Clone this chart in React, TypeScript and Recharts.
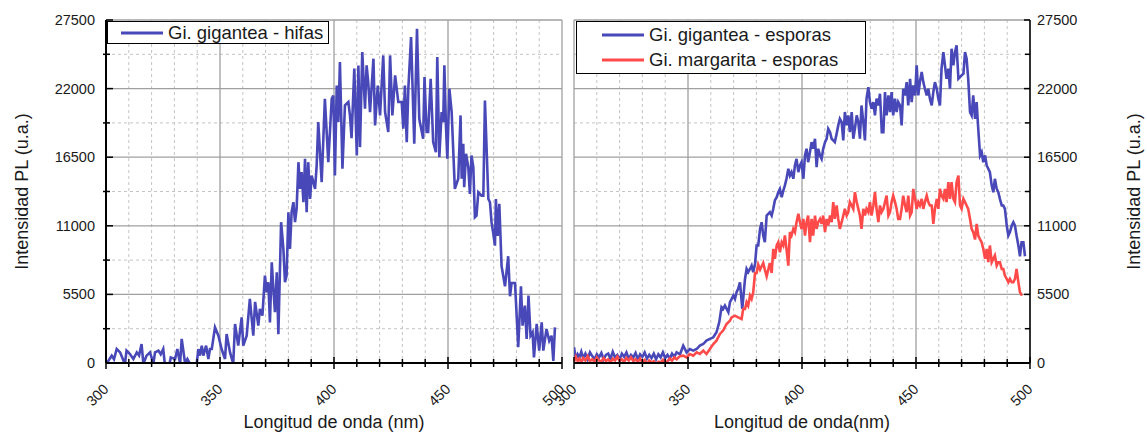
import React from 'react';
import { LineChart, Line, XAxis, YAxis, CartesianGrid, Legend, Label } from 'recharts';

// axis ticks (nm / u.a.)
const xTicks = [300, 310, 320, 330, 340, 350, 360, 370, 380, 390, 400, 410, 420, 430, 440, 450, 460, 470, 480, 490, 500];
const xMajor = [300, 350, 400, 450, 500];
const xMinor = [310, 320, 330, 340, 360, 370, 380, 390, 410, 420, 430, 440, 460, 470, 480, 490];
const yTicks = [0, 2750, 5500, 8250, 11000, 13750, 16500, 19250, 22000, 24750, 27500];
const yMajor = [0, 5500, 11000, 16500, 22000, 27500];
const yMinor = [2750, 8250, 13750, 19250, 24750];

// [longitud de onda (nm), intensidad PL]
const hifas: [number, number][] = [
  [300.6, 50], [302.5, 590], [303.5, 300], [304.7, 1120], [306.2, 850], [307.2, 400], [308.3, -100],
  [309, 1000], [310.5, 720], [312, 320], [313.5, 850], [314.5, 600], [315.6, 1520], [316.4, -50],
  [317.8, 590], [319.3, 850], [320.8, -50], [321.5, 850], [323, 990], [324, 700], [325.1, 1120],
  [326, -400], [327.5, -400], [328.4, 450], [330.3, 320], [331.3, 1120], [332.5, -50], [333.2, 1930],
  [334.7, -50], [335.7, 320], [336.8, -50], [338.2, -300], [339.8, -50], [340.5, 1120], [341.2, 590],
  [342, 1390], [342.7, 590], [343.9, 1390], [344.9, 320], [345.6, 1120], [346.4, 1120], [347.8, 2860],
  [349.3, 2190], [350.7, 1120], [352.2, 320], [352.9, 2320], [354.4, 850], [355.8, -50], [356.6, 3130],
  [358, 1390], [359.5, 3660], [360.2, 1390], [361.7, 2190], [363.1, 5140], [364.6, 2190],
  [365.4, 4900], [366.8, 3000], [367.5, 4330], [368.6, 3800], [369.7, 7010], [370.5, 5670],
  [371.2, 6470], [371.9, 3260], [372.7, 8080], [373.4, 5940], [374.1, 4070], [374.9, 7280],
  [375.6, 2300], [376.8, 11290], [377.8, 9150], [378.5, 6470], [379.2, 7010], [380, 12090],
  [380.7, 9150], [381.4, 12090], [382.2, 12890], [382.9, 11290], [383.6, 12360], [384.4, 16100],
  [385.1, 13960], [385.8, 15300], [386.6, 12890], [387.3, 16370], [388, 12090], [388.7, 16100],
  [389.5, 13160], [390.2, 15030], [391.7, 13960], [392.4, 15840], [393.1, 19310], [394.6, 14500],
  [396, 21180], [397.5, 16100], [399, 21180], [399.7, 21450], [400.4, 15030], [401.2, 22250],
  [401.9, 19310], [402.6, 24130], [403.7, 15570], [404.8, 20650], [406.3, 20920], [407, 19850],
  [407.7, 18020], [408.9, 23600], [410, 16640], [410.7, 23860], [411.4, 17310], [412.4, 24930],
  [413.6, 20380], [414.3, 23860], [415, 22520], [415.8, 20120], [417.3, 24400], [418, 19050],
  [419.2, 22250], [420.2, 19850], [421.6, 24660], [422.4, 20120], [423.8, 18520], [424.6, 24660],
  [425.6, 19850], [426.8, 23060], [428.2, 20920], [429.7, 20920], [430.4, 18780], [431.1, 22250],
  [431.9, 17710], [432.6, 21990], [433.8, 26130], [435.2, 17580], [436.4, 26800], [437.4, 19580],
  [439.1, 17980], [439.7, 22930], [440.6, 18520], [441.3, 18520], [442.4, 22790], [443.5, 17710],
  [444.7, 16900], [445.3, 24530], [446.2, 16500], [447.2, 20120], [447.9, 19310], [448.4, 23870],
  [449.1, 19050], [449.7, 16370], [450.6, 21990], [451.6, 20120], [453, 13960], [454.5, 14770],
  [455.5, 19850], [456, 14770], [456.7, 17580], [457.1, 14100], [457.9, 16770], [458.9, 15710],
  [459.6, 13560], [460.3, 16640], [461.1, 15710], [461.8, 11690], [462.5, 11820], [463.3, 13690],
  [464.7, 13420], [465.5, 13420], [466.2, 21050], [467.7, 13150], [468.4, 12890], [469.1, 11290],
  [469.8, 10460], [470.6, 9410], [471, 13150], [471.8, 10190], [472.5, 12760], [473.5, 7760],
  [475, 6150], [476.4, 8560], [477.2, 5350], [477.9, 6420], [479.4, 6420], [480.8, 1260],
  [482, 6150], [482.7, 3000], [483.7, 4600], [484.5, 1930], [485.3, 5400], [486.2, 2190],
  [487.1, 2460], [487.7, 450], [488.9, 3130], [490, 1000], [491.1, 3260], [491.8, 990],
  [493.2, 2720], [494.4, 1790], [495.4, 2190], [496.2, 170], [496.9, 2860],
];

const esporasGigantea: [number, number][] = [
  [300, 1260], [300.8, 300], [301.6, 700], [302.4, 450], [303.2, 900], [304, 400], [305, 750],
  [306, 300], [307, 850], [308, 550], [309, 300], [310, 700], [311, 450], [312, 800], [313, 300],
  [314, 650], [315, 750], [316, 350], [317, 900], [318, 450], [319, 650], [320, 300], [321, 750],
  [322, 500], [323, 850], [324, 350], [325, 650], [326, 450], [327, 800], [328, 300], [329, 700],
  [330, 500], [331, 850], [332, 350], [333, 650], [334, 400], [335, 750], [336, 300], [337, 700],
  [338, 450], [339, 850], [340, 400], [341, 650], [342, 350], [343, 750], [344, 500], [345, 850],
  [346.5, 700], [347.9, 1390], [349.4, 850], [350.8, 1120], [352.3, 990], [353.8, 1120],
  [355.2, 1390], [356.7, 1520], [358.1, 1790], [359.6, 1930], [361.1, 2060], [362.5, 2460],
  [363.7, 3260], [364.7, 4470], [365.4, 4330], [366.2, 4600], [367.7, 4070], [368.4, 4870],
  [369.9, 5400], [370.6, 5140], [371.3, 5670], [372, 5940], [372.8, 6470], [373.8, 4330],
  [375, 6740], [375.7, 7540], [376.4, 7280], [377.2, 7540], [377.9, 7810], [378.6, 7280],
  [379.4, 7940], [380.1, 9420], [380.8, 9420], [381.6, 10750], [382.3, 11290], [383, 10220],
  [383.7, 9680], [384.5, 11820], [385.2, 11960], [385.9, 12090], [386.7, 11820], [387.4, 12360],
  [388.1, 13030], [388.9, 13290], [389.6, 13690], [390.3, 13960], [391.1, 13290], [391.8, 13830],
  [392.5, 14240], [393.2, 14770], [394, 15570], [394.7, 15030], [395.4, 15300], [396.2, 14770],
  [396.9, 15840], [397.6, 16370], [398.4, 15300], [399.1, 15840], [399.8, 16100], [400.6, 14770],
  [401.3, 16640], [402, 17180], [402.7, 16100], [403.5, 16910], [404.2, 17710], [404.9, 17180],
  [405.7, 17980], [406.4, 15700], [407.1, 17180], [407.9, 16640], [408.6, 16370], [409.3, 17180],
  [410.1, 17710], [410.8, 17980], [411.5, 18780], [412.3, 18510], [413, 17980], [413.7, 17850],
  [414.4, 17710], [415.2, 18390], [415.9, 19050], [416.6, 19580], [417.4, 19310], [418.1, 17850],
  [418.8, 20120], [419.6, 19050], [420.3, 19850], [421, 18510], [421.8, 20120], [422.5, 17980],
  [423.2, 18780], [424, 19850], [424.7, 19310], [425.4, 17980], [426.1, 20650], [426.9, 19310],
  [427.6, 17850], [428.3, 21190], [429.1, 22120], [429.8, 20920], [430.5, 20380], [431.3, 20920],
  [432, 19850], [432.7, 21190], [433.5, 20650], [434.2, 21590], [435, 18510], [435.7, 18510],
  [436.4, 21720], [437.1, 19850], [437.9, 21450], [438.6, 20120], [439.3, 21720], [440, 19850],
  [440.8, 21190], [441.5, 20120], [442.2, 20920], [443, 20650], [443.7, 19050], [444.4, 21990],
  [445.2, 21450], [445.9, 22520], [446.6, 20650], [447.4, 22790], [448.1, 20920], [448.8, 22250],
  [449.6, 21450], [450.3, 23860], [451, 21450], [451.7, 22520], [452.5, 23330], [453.2, 22520],
  [453.9, 21990], [454.7, 21450], [455.4, 21990], [456.1, 21190], [456.9, 20650], [457.6, 21720],
  [458.3, 22520], [459.1, 21990], [459.8, 21190], [460.5, 20650], [461.2, 23600], [462, 24930],
  [462.7, 23860], [463.4, 22790], [464.2, 23600], [464.9, 21990], [465.6, 25200], [466.4, 23860],
  [467.1, 24930], [467.8, 25470], [468.6, 22790], [469.3, 22920], [470, 23060], [470.8, 23200],
  [471.5, 24930], [472.2, 24400], [472.9, 22790], [473.7, 20120], [474.4, 19850], [475.1, 21450],
  [475.9, 19580], [476.6, 20920], [477.3, 18780], [478.1, 16640], [478.8, 16910], [479.5, 16100],
  [480.3, 16640], [481, 15840], [481.7, 15570], [482.4, 15300], [483.2, 14240], [483.9, 13690],
  [484.6, 14770], [485.4, 13960], [486.1, 13690], [486.8, 13160], [487.6, 12630], [488.3, 12630],
  [489, 12360], [489.8, 11020], [490.5, 10220], [491.2, 10490], [492, 11020], [492.7, 11290],
  [493.4, 11020], [494.1, 10220], [494.9, 9420], [495.6, 8560], [496.3, 9680], [497.1, 9680],
  [497.8, 8560],
];

const esporasMargarita: [number, number][] = [
  [300, 100], [300.8, 500], [301.6, 150], [302.4, 350], [303.2, 50], [304, 400], [305, 200],
  [306, 550], [307, 150], [308, 300], [309, 100], [310, 450], [311, 200], [312, 100], [313, 400],
  [314, 150], [315, 300], [316, 50], [317, 350], [318, 200], [319, 500], [320, 150], [321, 300],
  [322, 100], [323, 400], [324, 200], [325, 450], [326, 150], [327, 300], [328, 100], [329, 350],
  [330, 50], [331, 250], [332, -100], [333, 200], [334, 50], [335, 150], [336, -100], [337, 100],
  [338, 50], [339, 250], [340, -50], [341, 150], [342, 350], [343, 200], [344, 450], [345, 300],
  [346.5, 550], [347.9, 590], [349.4, 450], [350.8, 720], [352.3, 590], [353.8, 850], [355.2, 720],
  [356.7, 990], [358.1, 720], [359.6, 1120], [361.1, 1520], [362.5, 1790], [364, 2330],
  [365.4, 2600], [366.9, 3130], [368.4, 3390], [369.1, 3660], [370.6, 3800], [372, 3660],
  [373.5, 3530], [374.2, 4330], [375, 4330], [375.7, 4870], [376.4, 4600], [377.2, 5400],
  [377.9, 5140], [378.6, 5670], [379.4, 7220], [380.1, 7220], [380.8, 7890], [381.6, 7490],
  [382.3, 7760], [383, 8020], [383.7, 7490], [384.5, 6960], [385.2, 7490], [385.9, 8020],
  [386.7, 7220], [387.4, 9150], [388.1, 8350], [388.9, 9420], [389.6, 9680], [390.3, 8880],
  [391.1, 9680], [391.8, 9420], [392.5, 10220], [393.2, 9150], [394, 7810], [394.7, 10490],
  [395.4, 10220], [396.2, 10750], [396.9, 10490], [397.6, 11290], [398.4, 11960], [399.1, 11290],
  [399.8, 10750], [400.6, 11550], [401.3, 10220], [402, 11290], [402.7, 11820], [403.5, 9680],
  [404.2, 11550], [404.9, 10220], [405.7, 11820], [406.4, 10750], [407.1, 11290], [407.9, 11550],
  [408.6, 11150], [409.3, 11820], [410.1, 10490], [410.8, 11550], [411.5, 11020], [412.3, 11820],
  [413, 11290], [413.7, 12900], [414.4, 11550], [415.2, 12630], [415.9, 11550], [416.6, 10750],
  [417.4, 11290], [418.1, 11820], [418.8, 12360], [419.6, 11820], [420.3, 12090], [421, 12900],
  [421.8, 12630], [422.5, 12360], [423.2, 13690], [424, 12900], [424.7, 12360], [425.4, 11820],
  [426.1, 10750], [426.9, 12360], [427.6, 11820], [428.3, 12360], [429.1, 12090], [429.8, 12900],
  [430.5, 11820], [431.3, 12630], [432, 13690], [432.7, 12360], [433.5, 11290], [434.2, 12630],
  [434.9, 12090], [435.7, 12360], [436.4, 12900], [437.1, 13420], [437.9, 11820], [438.6, 12090],
  [439.3, 12900], [440, 13420], [440.8, 12900], [441.5, 12360], [442.2, 11550], [443, 11550],
  [443.7, 12360], [444.4, 13420], [445.2, 12630], [445.9, 12090], [446.6, 13420], [447.4, 11820],
  [448.1, 12090], [448.8, 13960], [449.6, 13160], [450.3, 12360], [451, 12900], [451.7, 12630],
  [452.5, 13160], [453.2, 12360], [453.9, 12900], [454.7, 13420], [455.4, 12900], [456.1, 12630],
  [456.9, 12630], [457.6, 11150], [458.3, 12360], [459.1, 13160], [459.8, 12360], [460.5, 13960],
  [461.2, 13420], [462, 13160], [462.7, 13960], [463.4, 12900], [464.2, 14500], [464.9, 13160],
  [465.6, 14500], [466.4, 13160], [467.1, 12900], [467.8, 14500], [468.6, 15030], [469.3, 12630],
  [470, 12360], [470.8, 13160], [471.5, 12900], [472.2, 12630], [472.9, 12360], [473.7, 11550],
  [474.4, 10750], [475.1, 10490], [475.9, 9900], [476.6, 11150], [477.3, 10220], [478.1, 9900],
  [478.8, 9680], [479.5, 9150], [480.3, 8350], [481, 9150], [481.7, 8080], [482.4, 9420],
  [483.2, 8080], [483.9, 8350], [484.6, 8620], [485.4, 7810], [486.1, 8080], [486.8, 8080],
  [487.6, 7540], [488.3, 7540], [489, 7010], [489.8, 6740], [490.5, 6470], [491.2, 6740],
  [492, 6470], [492.7, 6470], [493.4, 6740], [494.1, 7540], [494.9, 6470], [495.6, 5670],
  [496.5, 5400],
];

const BLUE = '#4848b8';
const RED = '#ff4a4a';
const FONT = '"Liberation Sans", Arial, sans-serif';
const INK = '#1a1a1a';
const TICK_FONT = 14.5;
const TITLE_FONT = 18;

const toPoints = (arr: [number, number][]) => arr.map(([nm, pl]) => ({ nm, pl }));

const isMajorX = (v: number) => xMajor.includes(v);
const isMajorY = (v: number) => yMajor.includes(v);

// bottom axis: tick mark crossing the line + rotated label
const BottomTick = (props: any) => {
  const { x, y, payload } = props;
  const major = isMajorX(payload.value);
  const h = major ? 6 : 4;
  const lx = x + 3.5;
  const ly = y + 27;
  return (
    <g>
      <line x1={x} x2={x} y1={y - h} y2={y + h} stroke="#000" strokeWidth={1.5} />
      {major && (
        <text
          x={lx}
          y={ly}
          transform={`rotate(-45 ${lx} ${ly})`}
          textAnchor="end"
          fontSize={TICK_FONT}
          fontFamily={FONT}
          fill={INK}
        >
          {payload.value}
        </text>
      )}
    </g>
  );
};

const TopTick = (props: any) => {
  const { x, y, payload } = props;
  const major = isMajorX(payload.value);
  return <line x1={x} x2={x} y1={y - (major ? 6 : 4)} y2={y + (major ? 3 : 2)} stroke="#000" strokeWidth={1.5} />;
};

const LeftLabelTick = (props: any) => {
  const { x, y, payload } = props;
  const major = isMajorY(payload.value);
  return (
    <g>
      <line x1={major ? x : x - 3} x2={x + (major ? 7 : 4)} y1={y} y2={y} stroke="#000" strokeWidth={1.5} />
      {major && (
        <text x={x - 11} y={y + 5} textAnchor="end" fontSize={TICK_FONT} fontFamily={FONT} fill={INK}>
          {payload.value}
        </text>
      )}
    </g>
  );
};

const RightLabelTick = (props: any) => {
  const { x, y, payload } = props;
  const major = isMajorY(payload.value);
  return (
    <g>
      <line x1={x - (major ? 6 : 5)} x2={x} y1={y} y2={y} stroke="#000" strokeWidth={1.5} />
      {major && (
        <text x={x + 7} y={y + 5} textAnchor="start" fontSize={TICK_FONT} fontFamily={FONT} fill={INK}>
          {payload.value}
        </text>
      )}
    </g>
  );
};

const InnerRightTick = (props: any) => {
  const { x, y, payload } = props;
  const major = isMajorY(payload.value);
  return <line x1={x - (major ? 7 : 4)} x2={x + 3} y1={y} y2={y} stroke="#000" strokeWidth={1.5} />;
};

const InnerLeftTick = (props: any) => {
  const { x, y, payload } = props;
  const major = isMajorY(payload.value);
  return <line x1={x - 3} x2={x + (major ? 7 : 4)} y1={y} y2={y} stroke="#000" strokeWidth={1.5} />;
};

const xTitle = (text: string) => (props: any) => {
  const vb = props.viewBox;
  return (
    <text x={vb.x + vb.width / 2} y={vb.y + 65} textAnchor="middle" fontSize={TITLE_FONT} fontFamily={FONT} fill={INK}>
      {text}
    </text>
  );
};

const yTitle = (dx: number) => (props: any) => {
  const vb = props.viewBox;
  const x = vb.x + dx;
  const y = vb.y + vb.height / 2;
  return (
    <text x={x} y={y} transform={`rotate(-90 ${x} ${y})`} textAnchor="middle" fontSize={TITLE_FONT} fontFamily={FONT} fill={INK}>
      Intensidad PL (u.a.)
    </text>
  );
};

const legendBox = (width: number, height: number, padLeft: number, rowH: number) => (props: any) => (
  <div
    style={{
      width,
      height,
      boxSizing: 'border-box',
      border: '1.5px solid #000',
      background: '#fff',
      paddingLeft: padLeft,
      fontFamily: FONT,
    }}
  >
    {(props.payload || []).map((p: any) => (
      <div key={p.value} style={{ display: 'flex', alignItems: 'center', height: rowH }}>
        <svg width={42} height={4}>
          <line x1={0} x2={42} y1={2} y2={2} stroke={p.color} strokeWidth={3} />
        </svg>
        <span style={{ marginLeft: 5, fontSize: 18.5, lineHeight: '20px', color: INK, whiteSpace: 'nowrap' }}>{p.value}</span>
      </div>
    ))}
  </div>
);

const axisLine = { stroke: '#000', strokeWidth: 2 };

export default function App() {
  return (
    <div style={{ position: 'absolute', left: 0, top: 0, width: 1147, height: 433, background: '#fff' }}>
      <div style={{ position: 'absolute', left: 0, top: 0 }}>
        <LineChart width={568} height={433} margin={{ top: 20, right: 6, bottom: 0, left: 0 }}>
          <CartesianGrid verticalValues={xMinor} horizontalValues={yMinor} stroke="#c4c4c4" strokeDasharray="3 3" strokeWidth={1} />
          <CartesianGrid verticalValues={xMajor} horizontalValues={yMajor} stroke="#a0a0a0" strokeWidth={1.3} />
          <XAxis
            dataKey="nm"
            type="number"
            domain={[300, 500]}
            ticks={xTicks}
            interval={0}
            allowDataOverflow
            height={70}
            tickSize={0}
            tickMargin={0}
            tickLine={false}
            axisLine={axisLine}
            tick={BottomTick}
          >
            <Label content={xTitle('Longitud de onda (nm)')} />
          </XAxis>
          <XAxis
            xAxisId="top"
            orientation="top"
            dataKey="nm"
            type="number"
            domain={[300, 500]}
            ticks={xTicks}
            interval={0}
            height={0}
            tickSize={0}
            tickMargin={0}
            tickLine={false}
            axisLine={axisLine}
            tick={TopTick}
          />
          <YAxis
            type="number"
            domain={[0, 27500]}
            ticks={yTicks}
            interval={0}
            allowDataOverflow
            width={106}
            tickSize={0}
            tickMargin={0}
            tickLine={false}
            axisLine={axisLine}
            tick={LeftLabelTick}
          >
            <Label content={yTitle(28)} />
          </YAxis>
          <YAxis
            yAxisId="r"
            orientation="right"
            type="number"
            domain={[0, 27500]}
            ticks={yTicks}
            interval={0}
            width={0}
            tickSize={0}
            tickMargin={0}
            tickLine={false}
            axisLine={{ stroke: '#000', strokeWidth: 1.5 }}
            tick={InnerRightTick}
          />
          <Legend
            layout="vertical"
            align="center"
            verticalAlign="middle"
            wrapperStyle={{ left: 107, top: 21, width: 222, height: 23 }}
            content={legendBox(222, 23, 13, 21)}
          />
          <Line
            data={toPoints(hifas)}
            dataKey="pl"
            name="Gi. gigantea - hifas"
            stroke={BLUE}
            strokeWidth={2.6}
            dot={false}
            isAnimationActive={false}
          />
        </LineChart>
      </div>
      <div style={{ position: 'absolute', left: 548, top: 0 }}>
        <LineChart width={599} height={433} margin={{ top: 20, right: 0, bottom: 0, left: 26 }}>
          <CartesianGrid verticalValues={xMinor} horizontalValues={yMinor} stroke="#c4c4c4" strokeDasharray="3 3" strokeWidth={1} />
          <CartesianGrid verticalValues={xMajor} horizontalValues={yMajor} stroke="#a0a0a0" strokeWidth={1.3} />
          <XAxis
            dataKey="nm"
            type="number"
            domain={[300, 500]}
            ticks={xTicks}
            interval={0}
            allowDataOverflow
            height={70}
            tickSize={0}
            tickMargin={0}
            tickLine={false}
            axisLine={axisLine}
            tick={BottomTick}
          >
            <Label content={xTitle('Longitud de onda(nm)')} />
          </XAxis>
          <XAxis
            xAxisId="top"
            orientation="top"
            dataKey="nm"
            type="number"
            domain={[300, 500]}
            ticks={xTicks}
            interval={0}
            height={0}
            tickSize={0}
            tickMargin={0}
            tickLine={false}
            axisLine={axisLine}
            tick={TopTick}
          />
          <YAxis
            orientation="right"
            type="number"
            domain={[0, 27500]}
            ticks={yTicks}
            interval={0}
            allowDataOverflow
            width={117}
            tickSize={0}
            tickMargin={0}
            tickLine={false}
            axisLine={{ stroke: '#000', strokeWidth: 1.5 }}
            tick={RightLabelTick}
          >
            <Label content={yTitle(110)} />
          </YAxis>
          <YAxis
            yAxisId="l"
            orientation="left"
            type="number"
            domain={[0, 27500]}
            ticks={yTicks}
            interval={0}
            width={0}
            tickSize={0}
            tickMargin={0}
            tickLine={false}
            axisLine={axisLine}
            tick={InnerLeftTick}
          />
          <Legend
            layout="vertical"
            align="center"
            verticalAlign="middle"
            wrapperStyle={{ left: 28, top: 21, width: 290, height: 53 }}
            content={legendBox(290, 53, 25, 25)}
          />
          <Line
            data={toPoints(esporasGigantea)}
            dataKey="pl"
            name="Gi. gigantea - esporas"
            stroke={BLUE}
            strokeWidth={2.6}
            dot={false}
            isAnimationActive={false}
          />
          <Line
            data={toPoints(esporasMargarita)}
            dataKey="pl"
            name="Gi. margarita - esporas"
            stroke={RED}
            strokeWidth={2.6}
            dot={false}
            isAnimationActive={false}
          />
        </LineChart>
      </div>
    </div>
  );
}
